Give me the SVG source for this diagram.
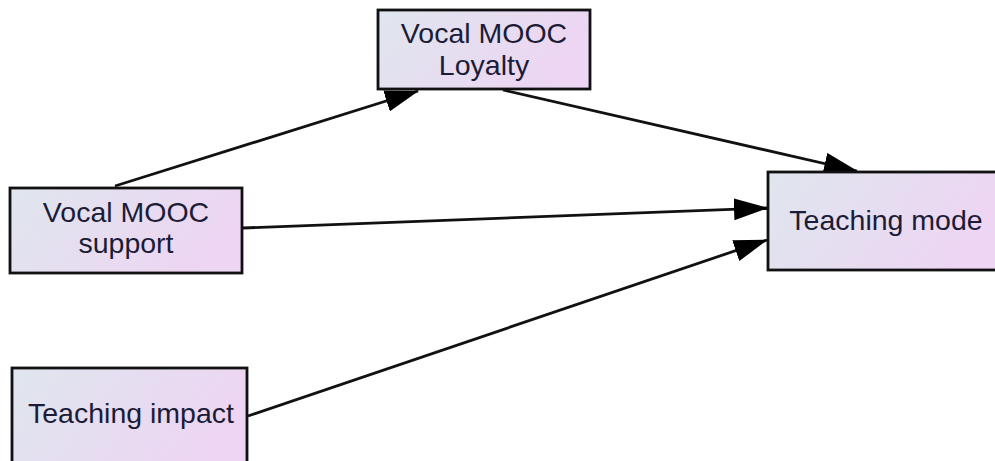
<svg xmlns="http://www.w3.org/2000/svg" width="995" height="461" viewBox="0 0 995 461">
<style>
.box{stroke:#111;stroke-width:2.8;fill:url(#g)}
.lbl{font-family:"Liberation Sans",Arial,sans-serif;font-size:28.5px;fill:#1c1c38;text-anchor:middle}
.edge{stroke:#111;stroke-width:2.8;fill:none;marker-end:url(#ah)}
</style>
<defs>
<linearGradient id="g" x1="0" y1="0" x2="1" y2="0.3">
<stop offset="0" stop-color="#dfe6ee"/>
<stop offset="1" stop-color="#edd5f3"/>
</linearGradient>
<marker id="ah" markerUnits="userSpaceOnUse" markerWidth="34" markerHeight="22" viewBox="0 0 34 22" refX="33" refY="11" orient="auto">
<path d="M0,0 L34,11 L0,22 z" fill="#000"/>
</marker>
</defs>
<rect width="995" height="461" fill="#fff"/>
<g id="edges">
<line class="edge" x1="115" y1="186" x2="418" y2="91"/>
<line class="edge" x1="503" y1="90" x2="857" y2="171"/>
<line class="edge" x1="243" y1="228" x2="767" y2="208"/>
<line class="edge" x1="248" y1="416" x2="767" y2="240"/>
</g>
<g id="loyalty">
<rect class="box" x="378" y="10" width="212" height="79"/>
<text class="lbl" x="484" y="43">Vocal MOOC</text>
<text class="lbl" x="484" y="75">Loyalty</text>
</g>
<g id="support">
<rect class="box" x="10" y="188" width="232" height="85"/>
<text class="lbl" x="126" y="222">Vocal MOOC</text>
<text class="lbl" x="126" y="253">support</text>
</g>
<g id="impact">
<rect class="box" x="12" y="368" width="235" height="96"/>
<text class="lbl" x="131" y="423">Teaching impact</text>
</g>
<g id="mode">
<rect class="box" x="768" y="172" width="232" height="98"/>
<text class="lbl" x="886" y="230">Teaching mode</text>
</g>
</svg>
